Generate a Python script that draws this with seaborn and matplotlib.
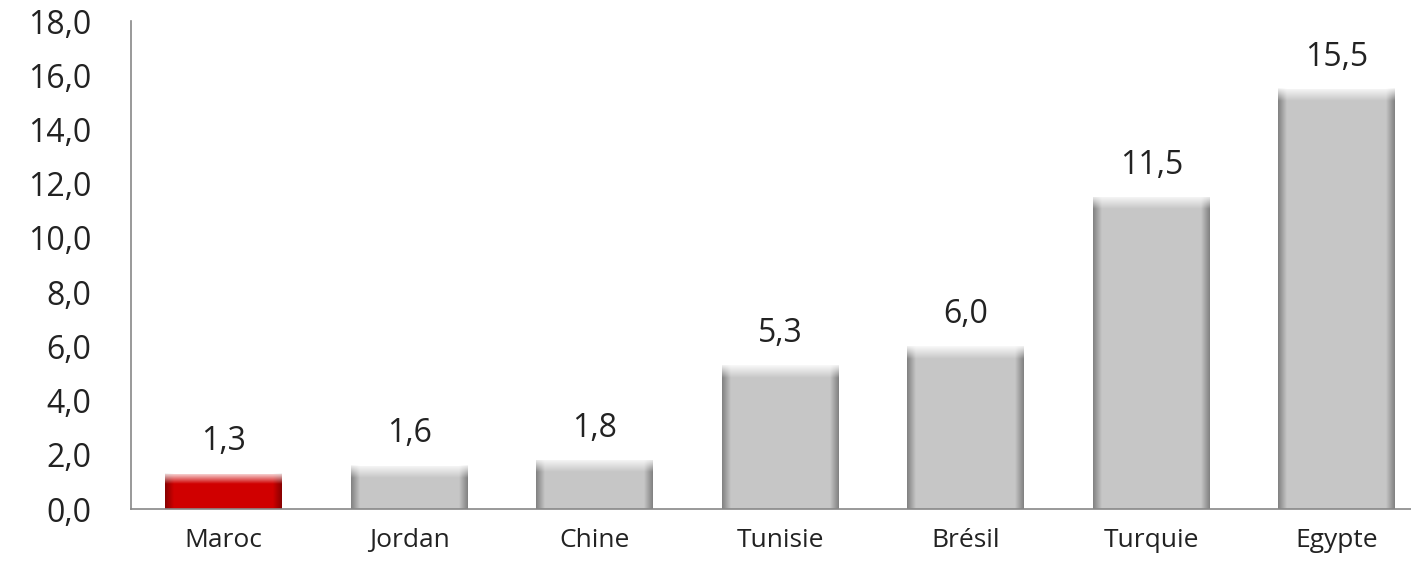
import numpy as np
import pandas as pd
import matplotlib
matplotlib.use("Agg")
import matplotlib.pyplot as plt
import seaborn as sns

categories = ["Maroc", "Jordan", "Chine", "Tunisie", "Brésil", "Turquie", "Egypte"]
values = [1.3, 1.6, 1.8, 5.3, 6.0, 11.5, 15.5]
highlight = "Maroc"
y_ticks = [0, 2, 4, 6, 8, 10, 12, 14, 16, 18]

sns.set_style("white")
plt.rcParams["font.family"] = ["Open Sans", "DejaVu Sans"]

df = pd.DataFrame({"pays": categories, "val": values})
palette = {c: ("#d00000" if c == highlight else "#c6c6c6") for c in categories}

fig = plt.figure(figsize=(14.11, 5.61), dpi=100)
ax = fig.add_axes([131 / 1411, 52 / 561, 1280 / 1411, 488 / 561])
sns.barplot(data=df, x="pays", y="val", hue="pays", palette=palette,
            width=0.63, ax=ax, legend=False, saturation=1, edgecolor="none")

# bevel shading via gradient overlays clipped to each bar
for p in ax.patches:
    x0, y0 = p.get_x(), p.get_y()
    w, h = p.get_width(), p.get_height()
    xs = np.linspace(-1, 1, 200)
    shade = np.clip(np.abs(xs) - 0.85, 0, None) / 0.15
    img = np.zeros((1, 200, 4))
    img[..., 3] = shade * 0.35
    ax.imshow(img, extent=[x0, x0 + w, y0, y0 + h], aspect="auto",
              zorder=p.get_zorder() + 0.1, clip_path=p, clip_on=True)
    top = min(0.45, h * 0.3)
    grad = np.linspace(0, 1, 50).reshape(-1, 1)
    img2 = np.ones((50, 1, 4))
    img2[..., 3] = (1 - grad) * 0.9
    ax.imshow(img2, extent=[x0, x0 + w, y0 + h - top, y0 + h], aspect="auto",
              zorder=p.get_zorder() + 0.2, clip_path=p, clip_on=True)

for i, v in enumerate(values):
    ax.annotate(f"{v:.1f}".replace(".", ","), (i, v), xytext=(0, 11),
                textcoords="offset points", ha="center", va="bottom",
                fontsize=23, color="#222222")

ax.set_yticks(y_ticks)
ax.set_yticklabels([f"{t:.1f}".replace(".", ",") for t in y_ticks], fontsize=23, color="#222222")
ax.set_xticks(range(len(categories)))
ax.set_xticklabels(categories, fontsize=19, color="#222222")
ax.set_xlabel("")
ax.set_ylabel("")
ax.set_xticks(np.arange(-0.5, len(categories), 1.0), minor=True)
ax.tick_params(axis="x", which="major", length=0, pad=14)
ax.tick_params(axis="x", which="minor", length=6, color="#888888", direction="out")
ax.tick_params(axis="y", length=11.5, color="#888888", direction="out", pad=17)
for s in ["top", "right"]:
    ax.spines[s].set_visible(False)
for s in ["left", "bottom"]:
    ax.spines[s].set_color("#888888")
    ax.spines[s].set_linewidth(1.2)

# limits last, since set_xticks can widen the view
ax.set_xlim(-0.5, -0.5 + 1280 / 185.5)
ax.set_ylim(0, 18)

fig.savefig("out.png", dpi=100)
